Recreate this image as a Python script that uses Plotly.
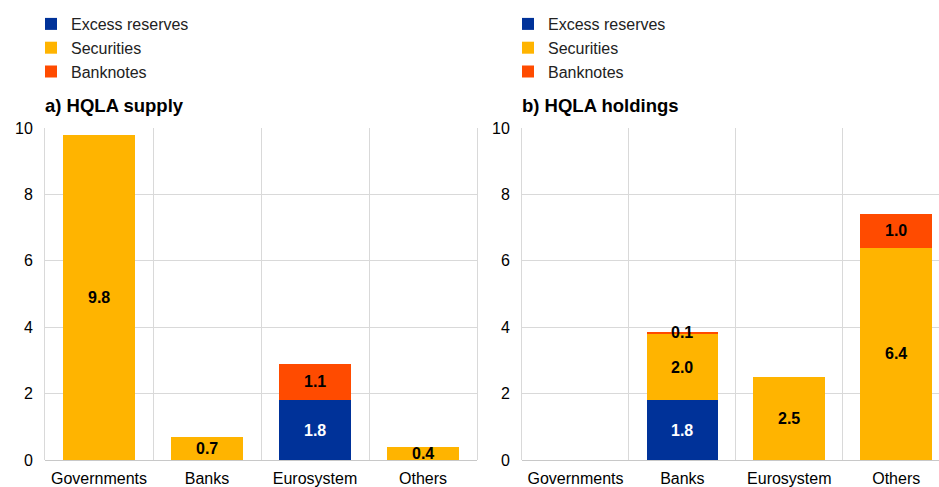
import plotly.graph_objects as go

categories = ["Governments", "Banks", "Eurosystem", "Others"]
series_names = ["Excess reserves", "Securities", "Banknotes"]
colors = ["#003299", "#FFB400", "#FF4B00"]
label_colors = ["white", "black", "black"]

# a) HQLA supply (EUR trillions)
supply_excess = [0, 0, 1.8, 0]
supply_securities = [9.8, 0.7, 0, 0.4]
supply_banknotes = [0, 0, 1.1, 0]

# b) HQLA holdings
hold_excess = [0, 1.8, 0, 0]
hold_securities = [0, 2.0, 2.5, 6.4]
hold_banknotes = [0, 0.06, 0, 1.0]

titles = ["a) HQLA supply", "b) HQLA holdings"]
y_ticks = [0, 2, 4, 6, 8, 10]

W, H = 939, 487
FONT = "Liberation Sans, Arial, sans-serif"
GRID = "#d9d9d9"

fig = go.Figure()

panels = [
    (supply_excess, supply_securities, supply_banknotes),
    (hold_excess, hold_securities, hold_banknotes),
]
axes = [("x", "y", "legend"), ("x2", "y2", "legend2")]

annotations = []
for p, (vals, (xa, ya, lg)) in enumerate(zip(panels, axes)):
    base = [0.0] * len(categories)
    for s, series in enumerate(vals):
        fig.add_trace(go.Bar(
            x=categories, y=series, name=series_names[s],
            marker=dict(color=colors[s], line=dict(width=0)),
            xaxis=xa, yaxis=ya, legend=lg, showlegend=True,
            hoverinfo="skip",
        ))
        for i, v in enumerate(series):
            if v > 0:
                annotations.append(dict(
                    x=categories[i], y=base[i] + v / 2, xref=xa, yref=ya,
                    text="<b>%.1f</b>" % v, showarrow=False,
                    font=dict(family=FONT, size=16, color=label_colors[s]),
                    xanchor="center", yanchor="middle",
                ))
            base[i] += v

left_x = [43 / W, 520 / W]
for p in range(2):
    annotations.append(dict(
        x=left_x[p], y=1 - 105 / H, xref="paper", yref="paper",
        text="<b>%s</b>" % titles[p], showarrow=False,
        font=dict(family=FONT, size=18.5, color="black"),
        xanchor="left", yanchor="middle",
    ))

y_dom = [(H - 460) / H, (H - 128) / H]
axis_common = dict(
    showgrid=True, gridcolor=GRID, gridwidth=1,
    tickfont=dict(family=FONT, size=16, color="black"),
    fixedrange=True,
)
fig.update_layout(
    width=W, height=H,
    margin=dict(l=0, r=0, t=0, b=0, autoexpand=False),
    paper_bgcolor="white", plot_bgcolor="white",
    barmode="stack", bargap=0.33,
    font=dict(family=FONT, size=16, color="black"),
    xaxis=dict(domain=[45 / W, 477 / W], anchor="y", type="category",
               range=[-0.5, 3.5], tickson="boundaries", ticks="",
               showline=False, ticklabelstandoff=7, **axis_common),
    yaxis=dict(domain=y_dom, anchor="x", range=[0, 10], tickvals=y_ticks,
               zeroline=True, zerolinecolor="#c8c8c8", zerolinewidth=1,
               showline=True, mirror=True, linecolor=GRID, linewidth=1,
               ticks="", ticklabelstandoff=8, **axis_common),
    xaxis2=dict(domain=[522 / W, 1.0], anchor="y2", type="category",
                range=[-0.5, 3.4], tickson="boundaries", ticks="",
                showline=False, ticklabelstandoff=7, **axis_common),
    yaxis2=dict(domain=y_dom, anchor="x2", range=[0, 10], tickvals=y_ticks,
                zeroline=True, zerolinecolor="#c8c8c8", zerolinewidth=1,
                showline=True, linecolor=GRID, linewidth=1,
                ticks="", ticklabelstandoff=8, **axis_common),
    legend=dict(x=31 / W, y=1 - 7 / H, xanchor="left", yanchor="top",
                traceorder="normal", bgcolor="rgba(0,0,0,0)",
                font=dict(family=FONT, size=16, color="#222222"),
                itemclick=False, itemdoubleclick=False),
    legend2=dict(x=508 / W, y=1 - 7 / H, xanchor="left", yanchor="top",
                 traceorder="normal", bgcolor="rgba(0,0,0,0)",
                 font=dict(family=FONT, size=16, color="#222222"),
                 itemclick=False, itemdoubleclick=False),
    annotations=annotations,
)

fig.write_html("out.html", config={"displayModeBar": False},
               post_script="document.body.style.margin='0';document.body.style.padding='0';")
